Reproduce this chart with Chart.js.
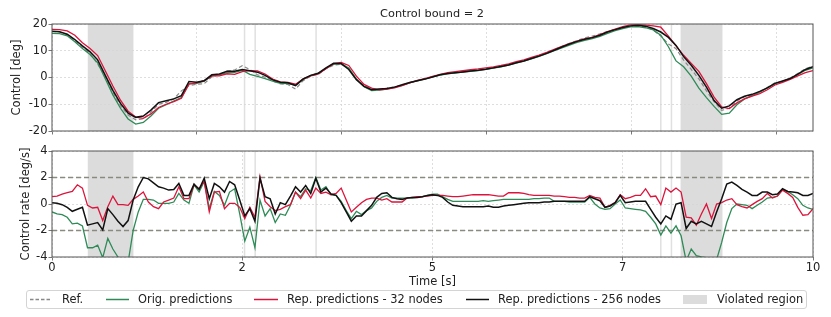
<!DOCTYPE html>
<html>
<head>
<meta charset="utf-8">
<script src="https://cdn.jsdelivr.net/npm/chart.js@4.4.0/dist/chart.umd.min.js"></script>
<style>
  body { margin: 0; background: #fff; font-family: "DejaVu Sans", sans-serif; color: #222; }
  #wrap { position: relative; width: 831px; height: 317px; overflow: hidden; }
  canvas { position: absolute; left: 0; }
  #title { position: absolute; left: 332px; width: 200px; top: 7px; text-align: center; font-size: 11.3px; }
  #legend { position: absolute; left: 26px; top: 290px; width: 781px; height: 19px; border: 1px solid #d4d4d4; border-radius: 3px; box-sizing: border-box; }
  .lg { position: absolute; top: 292px; font-size: 11.4px; line-height: 14px; white-space: nowrap; }
  svg { position: absolute; left: 0; top: 0; }
</style>
</head>
<body>
<div id="wrap">
  <canvas id="controlChart" width="831" height="140" style="top:0"></canvas>
  <canvas id="rateChart" width="831" height="150" style="top:140px"></canvas>
  <div id="title">Control bound = 2</div>
  <div id="legend"></div>
  <svg width="831" height="317">
    <line x1="30" y1="299.5" x2="51" y2="299.5" stroke="#888" stroke-width="1.3" stroke-dasharray="3.5,2"/>
    <line x1="106" y1="299.5" x2="129" y2="299.5" stroke="#2e8b57" stroke-width="1.5"/>
    <line x1="254" y1="299.5" x2="278" y2="299.5" stroke="#dc143c" stroke-width="1.5"/>
    <line x1="466" y1="299.5" x2="489" y2="299.5" stroke="#111" stroke-width="1.5"/>
    <rect x="683" y="295" width="24" height="9" fill="#dcdcdc"/>
  </svg>
  <div class="lg" style="left:62px">Ref.</div>
  <div class="lg" style="left:138px">Orig. predictions</div>
  <div class="lg" style="left:287px">Rep. predictions - 32 nodes</div>
  <div class="lg" style="left:498px">Rep. predictions - 256 nodes</div>
  <div class="lg" style="left:717px">Violated region</div>
</div>
<script>
// time grids
const tTop = Array.from({length: 101}, (_, i) => i / 10);
const tRate = Array.from({length: 151}, (_, i) => i / 15);

// Control [deg]
const controlRef = [17.2,17.0,16.0,13.8,11.2,9.0,5.0,0.5,-5.5,-10.5,
  -14.0,-15.8,-15.5,-13.0,-10.0,-9.3,-8.0,-5.0,-3.0,-2.5,
  -2.3,0.3,1.0,2.4,2.8,4.4,3.0,1.0,0.2,-1.3,
  -2.4,-2.6,-4.3,-1.2,0.5,1.2,3.3,4.6,5.0,3.3,
  -0.6,-3.0,-4.4,-4.4,-4.0,-3.5,-2.8,-1.9,-1.2,-0.5,
  0.2,1.0,1.5,1.8,2.2,2.5,2.8,3.2,3.6,4.2,
  4.8,5.6,6.4,7.3,8.2,9.2,10.5,11.6,12.8,13.8,
  14.8,15.5,16.3,17.2,18.0,18.6,19.1,19.3,19.0,17.8,
  15.5,12.5,10.8,6.5,3.0,-0.5,-5.0,-9.0,-12.3,-11.5,
  -8.8,-7.2,-6.5,-5.5,-3.7,-2.0,-1.6,-0.2,1.5,3.3,
  4.2];
const controlOrig = [16.5,16.4,15.6,13.4,10.8,8.6,5.5,-0.5,-6.5,-11.5,
  -15.5,-17.4,-16.8,-14.4,-11.5,-10.2,-8.8,-7.5,-2.3,-2.2,
  -1.4,0.6,1.0,1.8,1.9,2.7,1.2,0.4,-0.4,-1.4,
  -2.2,-2.3,-2.8,-0.8,0.8,1.6,3.4,5.0,5.2,3.6,
  -0.6,-3.4,-4.9,-4.7,-4.3,-3.7,-2.9,-2.0,-1.3,-0.6,
  0.2,0.9,1.4,1.7,2.0,2.3,2.6,3.0,3.5,4.0,
  4.6,5.4,6.1,7.0,7.9,8.9,10.0,11.1,12.1,13.1,
  13.9,14.5,15.4,16.5,17.5,18.3,18.9,19.0,18.6,17.8,
  15.8,11.5,6.2,4.0,0.5,-4.0,-7.5,-10.8,-13.8,-13.3,
  -10.2,-8.0,-6.8,-5.5,-3.9,-2.3,-1.4,-0.3,1.1,2.7,
  3.6];
const controlRep32 = [18.0,17.9,17.4,15.8,13.0,10.8,8.2,2.5,-3.2,-8.5,
  -12.6,-14.8,-15.3,-13.6,-11.2,-10.0,-9.0,-7.8,-2.5,-2.0,
  -1.2,0.6,0.6,1.4,1.2,2.2,2.6,2.5,1.3,-0.6,
  -1.6,-1.8,-2.5,-0.6,0.6,1.3,3.3,5.2,5.6,4.5,
  0.5,-2.6,-4.0,-4.6,-4.3,-3.9,-3.0,-2.0,-1.1,-0.4,
  0.4,1.2,1.8,2.2,2.6,2.9,3.2,3.6,4.0,4.5,
  5.1,5.9,6.6,7.5,8.4,9.4,10.5,11.6,12.7,13.6,
  14.4,15.0,16.0,17.2,18.1,19.0,19.7,19.8,19.6,19.3,
  18.8,15.5,11.8,8.3,5.3,2.3,-2.3,-7.3,-11.0,-11.6,
  -9.5,-8.0,-7.0,-6.0,-4.6,-2.8,-1.8,-0.7,0.6,1.8,
  2.6];
const controlRep256 = [17.3,17.1,16.2,14.2,11.8,9.6,6.6,0.8,-4.8,-9.7,
  -13.3,-14.9,-14.4,-12.2,-9.4,-8.7,-8.0,-6.8,-1.5,-1.8,
  -1.2,1.0,1.3,2.3,2.3,3.0,2.5,2.0,0.8,-0.9,
  -1.8,-2.0,-3.0,-0.5,0.8,1.6,3.6,5.3,5.2,3.0,
  -0.8,-3.3,-4.6,-4.3,-4.1,-3.6,-2.7,-1.9,-1.2,-0.6,
  0.2,1.0,1.5,1.8,2.1,2.4,2.7,3.1,3.6,4.1,
  4.7,5.5,6.2,7.1,8.0,9.0,10.2,11.4,12.5,13.5,
  14.3,14.9,15.8,17.0,17.9,18.7,19.3,19.5,19.2,18.3,
  17.0,15.0,12.0,7.8,4.6,0.8,-3.6,-8.6,-11.5,-10.6,
  -8.3,-7.0,-6.3,-5.2,-3.9,-2.2,-1.3,-0.4,1.3,3.0,
  4.0];

// Control rate [deg/s]
const rateOrig = [-0.6,-0.75,-0.8,-1.0,-1.5,-1.45,-1.65,-3.3,-3.3,-3.1,
  -4.05,-2.6,-3.4,-4.0,-4.4,-4.4,-2.0,-0.6,0.35,0.35,
  0.3,0.05,0.05,0.05,0.15,0.8,0.3,0.05,1.45,0.9,
  1.7,-0.35,0.95,0.65,-0.1,0.9,1.15,-0.75,-2.8,-1.75,
  -3.3,0.3,-0.9,-0.35,-1.4,-0.75,-0.85,-0.1,0.9,0.55,
  1.15,1.0,2.0,1.05,1.3,0.7,0.65,0.2,-0.5,-1.1,
  -0.55,-0.8,-0.5,-0.3,0.2,0.5,0.65,0.45,0.45,0.45,
  0.45,0.45,0.5,0.55,0.65,0.75,0.75,0.55,0.35,0.2,
  0.2,0.2,0.2,0.2,0.2,0.25,0.2,0.25,0.3,0.35,
  0.35,0.35,0.35,0.35,0.35,0.4,0.4,0.45,0.45,0.2,
  0.2,0.2,0.15,0.15,0.15,0.15,0.5,0.0,-0.3,-0.4,
  -0.35,0.0,0.3,-0.3,-0.35,-0.4,-0.45,-0.55,-1.0,-1.5,
  -2.35,-1.65,-2.2,-1.65,-2.4,-4.3,-3.4,-3.9,-4.0,-4.05,
  -4.15,-4.2,-2.9,-1.4,-0.35,0.0,-0.05,-0.1,-0.35,-0.1,
  0.15,0.45,0.5,0.6,1.1,0.95,0.7,0.4,-0.1,-0.3,
  -0.4];
const rateRep32 = [0.55,0.6,0.75,0.85,0.95,1.45,1.2,-0.1,-0.3,-0.25,
  -1.25,-0.2,0.6,-0.05,-0.05,-0.1,0.35,0.6,0.9,0.15,
  -0.2,-0.35,0.15,0.3,0.45,1.3,0.4,0.4,1.45,1.15,
  1.7,-0.6,0.9,0.95,-0.35,0.05,0.05,-0.25,-1.1,-0.25,
  -1.0,2.05,0.2,-0.2,-0.5,-0.4,-0.2,-0.05,0.9,0.4,
  1.05,0.45,1.2,0.8,0.9,0.7,0.8,1.2,0.3,-0.6,
  -0.25,0.1,0.35,0.45,0.45,0.3,0.4,0.15,0.15,0.15,
  0.45,0.5,0.55,0.55,0.6,0.65,0.65,0.65,0.6,0.55,
  0.55,0.6,0.65,0.7,0.7,0.7,0.7,0.65,0.6,0.6,
  0.85,0.85,0.85,0.8,0.7,0.65,0.65,0.65,0.65,0.6,
  0.6,0.55,0.5,0.5,0.45,0.45,0.65,0.5,0.45,-0.25,
  -0.1,0.1,0.7,0.4,0.5,0.65,0.65,1.15,0.55,0.6,
  -0.05,1.2,0.9,1.2,0.9,-1.0,-1.05,-1.6,-0.75,0.0,
  -1.1,0.0,0.1,0.3,0.4,-0.05,-0.2,-0.3,-0.05,0.2,
  0.4,0.8,0.45,0.6,1.05,0.8,0.5,-0.25,-0.85,-0.8,
  -0.35];
const rateRep256 = [0.1,0.05,-0.05,-0.25,-0.55,-0.4,-0.25,-1.6,-1.5,-1.4,
  -1.95,-0.35,-0.8,-1.3,-1.7,-1.25,0.3,1.3,2.0,1.9,
  1.6,1.3,1.2,1.05,1.1,1.55,0.65,0.65,1.5,1.1,
  1.95,0.4,1.55,1.3,0.9,1.7,1.45,0.3,-0.9,-0.35,
  -1.3,1.95,0.55,0.4,-0.75,0.1,-0.05,0.6,1.3,0.9,
  1.4,0.8,1.95,0.9,1.2,0.75,0.65,0.1,-0.6,-1.3,
  -0.9,-0.9,-0.5,-0.1,0.5,0.8,0.85,0.5,0.4,0.35,
  0.45,0.5,0.5,0.55,0.65,0.7,0.65,0.5,0.15,-0.1,
  -0.15,-0.2,-0.2,-0.2,-0.2,-0.2,-0.15,-0.25,-0.25,-0.15,
  -0.1,-0.05,0.0,0.05,0.1,0.1,0.1,0.15,0.15,0.2,
  0.2,0.2,0.2,0.2,0.2,0.2,0.55,0.4,0.25,-0.25,
  -0.15,0.1,0.65,0.1,0.15,0.2,0.2,0.2,-0.4,-1.0,
  -1.5,-0.9,-1.15,0.0,0.1,-1.85,-1.3,-1.5,-1.3,-1.5,
  -1.7,-0.6,0.4,1.5,1.65,1.4,1.1,0.9,0.65,0.65,
  0.9,0.9,0.7,0.75,1.15,0.95,0.9,0.85,0.65,0.65,
  0.8];

// annotations
const controlBound = 2;
const violated = [[0.47, 1.07], [8.26, 8.81]];
const markers = [2.53, 2.67, 3.47, 8.0, 8.14];
const controlGridTicks = [0, 1.904, 3.808, 5.712, 7.616, 9.52];
const rateTicks = [0, 2.5, 5, 7.5, 10];
const rateTickLabels = ['0', '2', '5', '7', '10'];

const font = {family: 'DejaVu Sans', size: 11.5};
const gridColor = '#d6d6d6';

// shaded regions, marker lines, bound lines and frame
const decor = {
    id: 'decor',
    beforeDraw(chart) {
        const {ctx, chartArea: a, scales: {x}} = chart;
        ctx.save();
        ctx.fillStyle = '#dcdcdc';
        violated.forEach(([s, e]) => {
            const x0 = x.getPixelForValue(s), x1 = x.getPixelForValue(e);
            ctx.fillRect(x0, a.top, x1 - x0, a.bottom - a.top);
        });
        ctx.strokeStyle = '#e0e0e0';
        ctx.lineWidth = 1.5;
        markers.forEach(m => {
            const px = x.getPixelForValue(m);
            ctx.beginPath();
            ctx.moveTo(px, a.top);
            ctx.lineTo(px, a.bottom);
            ctx.stroke();
        });
        ctx.restore();
    },
    beforeDatasetsDraw(chart, args, opts) {
        if (!opts.bound) return;
        const {ctx, chartArea: a, scales: {y}} = chart;
        ctx.save();
        ctx.strokeStyle = '#8a8a80';
        ctx.lineWidth = 1.3;
        ctx.setLineDash([5, 3]);
        [opts.bound, -opts.bound].forEach(b => {
            const py = y.getPixelForValue(b);
            ctx.beginPath();
            ctx.moveTo(a.left, py);
            ctx.lineTo(a.right, py);
            ctx.stroke();
        });
        ctx.restore();
    },
    afterDraw(chart) {
        const {ctx, chartArea: a} = chart;
        ctx.save();
        ctx.strokeStyle = '#555';
        ctx.lineWidth = 1;
        ctx.strokeRect(a.left, a.top, a.right - a.left, a.bottom - a.top);
        ctx.restore();
    }
};

function series(t, values, color, width, dash) {
    return {
        data: values.map((v, i) => ({x: t[i], y: v})),
        borderColor: color,
        borderWidth: width,
        borderDash: dash || [],
        pointRadius: 0,
        tension: 0,
        fill: false
    };
}

function yAxis(min, max, step, label, titlePad) {
    return {
        min: min, max: max,
        afterFit: s => { s.width = 52; },
        ticks: {stepSize: step, font: font, color: '#222', padding: 1},
        grid: {color: gridColor, lineWidth: 0.8, tickColor: '#555', tickLength: 3.5},
        border: {display: false, dash: [2, 2]},
        title: {display: true, text: label, font: font, color: '#222', padding: {top: titlePad, bottom: titlePad}}
    };
}

// Control chart
new Chart(document.getElementById('controlChart'), {
    type: 'line',
    data: {
        datasets: [
            series(tTop, controlRep256, '#111', 1.5),
            series(tTop, controlRep32, '#dc143c', 1.3),
            series(tTop, controlOrig, '#2e8b57', 1.3),
            series(tTop, controlRef, '#888', 1.2, [4, 2.5])
        ]
    },
    options: {
        responsive: false,
        animation: false,
        devicePixelRatio: 1,
        layout: {padding: {top: 24, right: 18, left: 0, bottom: 0}},
        plugins: {legend: {display: false}, tooltip: {enabled: false}, decor: {}},
        scales: {
            x: {
                type: 'linear', min: 0, max: 10,
                afterFit: s => { s.height = 9; },
                afterBuildTicks: s => { s.ticks = controlGridTicks.map(v => ({value: v})); },
                ticks: {display: false},
                grid: {color: gridColor, lineWidth: 0.8, tickColor: '#555', tickLength: 3.5},
                border: {display: false, dash: [2, 2]}
            },
            y: yAxis(-20, 20, 10, 'Control [deg]', 10)
        }
    },
    plugins: [decor]
});

// Control rate chart
new Chart(document.getElementById('rateChart'), {
    type: 'line',
    data: {
        datasets: [
            series(tRate, rateRep256, '#111', 1.5),
            series(tRate, rateRep32, '#dc143c', 1.3),
            series(tRate, rateOrig, '#2e8b57', 1.3)
        ]
    },
    options: {
        responsive: false,
        animation: false,
        devicePixelRatio: 1,
        layout: {padding: {top: 11, right: 18, left: 0, bottom: 0}},
        plugins: {legend: {display: false}, tooltip: {enabled: false}, decor: {bound: controlBound}},
        scales: {
            x: {
                type: 'linear', min: 0, max: 10,
                afterFit: s => { s.height = 33; },
                afterBuildTicks: s => { s.ticks = rateTicks.map(v => ({value: v})); },
                ticks: {font: font, color: '#222', padding: 1, maxRotation: 0, callback: (v, i) => rateTickLabels[i]},
                grid: {color: gridColor, lineWidth: 0.8, tickColor: '#555', tickLength: 3.5},
                border: {display: false, dash: [2, 2]},
                title: {display: true, text: 'Time [s]', font: font, color: '#222', padding: {top: 0, bottom: 1}}
            },
            y: yAxis(-4, 4, 2, 'Control rate [deg/s]', 19)
        }
    },
    plugins: [decor]
});
</script>
</body>
</html>
